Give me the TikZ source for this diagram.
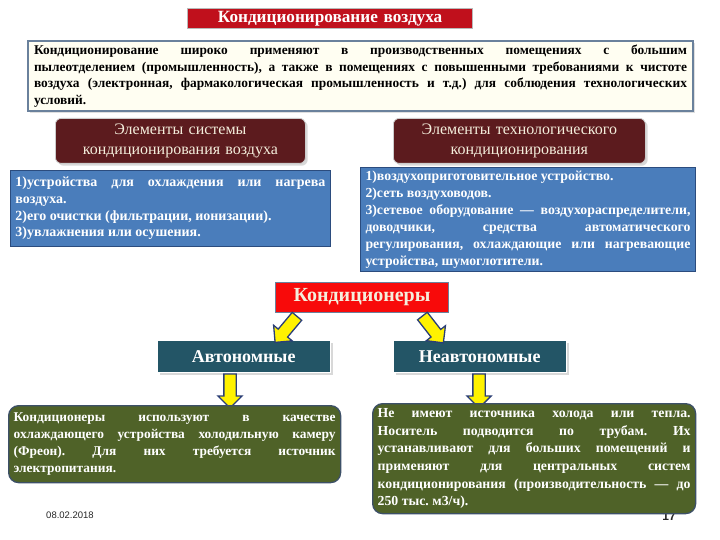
\documentclass[tikz,border=0pt]{standalone}
\usepackage{fontspec}
\setmainfont{Liberation Serif}
\newfontfamily\datefont{Liberation Sans}
\usetikzlibrary{positioning,calc,shapes.arrows,shadows}
\definecolor{kvTitle}{HTML}{C0101C}
\definecolor{kvFrame}{HTML}{6A819C}
\definecolor{kvIntroBg}{HTML}{FFFEF2}
\definecolor{kvHead}{HTML}{5C1B1E}
\definecolor{kvHeadTxt}{HTML}{F4EEDC}
\definecolor{kvBlue}{HTML}{4A7DBB}
\definecolor{kvBlueLine}{HTML}{2B4C7E}
\definecolor{kvRed}{HTML}{F80A0A}
\definecolor{kvTeal}{HTML}{235566}
\definecolor{kvGreen}{HTML}{4F6228}
\definecolor{kvGreenLine}{HTML}{3D5068}
\definecolor{kvArrow}{HTML}{2A3E78}
\frenchspacing
\tikzset{
  kvbox/.style n args={3}{
    anchor=north west, minimum width=#1, minimum height=#2,
    text width=#1-2*#3, inner xsep=#3, inner ysep=1pt},
  title/.style={kvbox={#1}{20pt}{6pt}, fill=kvTitle, draw=gray!55, line width=1.2pt,
    inner ysep=0pt, text=white, align=center,
    font=\fontsize{17.2}{17.5}\selectfont\bfseries},
  intro/.style={kvbox={665pt}{70pt}{6pt}, fill=kvIntroBg, draw=kvFrame, line width=2pt,
    drop shadow={opacity=0.25}, align=justify,
    font=\fontsize{13.4}{16.6}\selectfont\bfseries},
  head/.style={kvbox={#1}{45pt}{6pt}, fill=kvHead, draw=gray!40, line width=0.8pt,
    rounded corners=6pt, drop shadow={opacity=0.3}, text=kvHeadTxt, align=center,
    font=\fontsize{16}{19.5}\selectfont},
  bluebox/.style n args={4}{kvbox={#1}{#2}{5pt}, fill=kvBlue, draw=kvBlueLine,
    line width=1pt, text=white, align=justify,
    font=\fontsize{#3}{#4}\selectfont\bfseries},
  kind/.style={kvbox={173pt}{32pt}{6pt}, fill=kvTeal, draw=white, line width=0.5pt,
    drop shadow={opacity=0.3}, text=white, align=center,
    font=\fontsize{18}{19}\selectfont\bfseries},
  greenbox/.style n args={4}{kvbox={#1}{#2}{5pt}, fill=kvGreen, draw=kvGreenLine,
    line width=1.3pt, rounded corners=10pt, text=white, align=justify,
    font=\fontsize{#3}{#4}\selectfont\bfseries},
  blockarrow/.style={single arrow, fill=yellow, draw=kvArrow, line width=1.3pt,
    minimum height=34pt, text height=0pt, text depth=0pt, inner xsep=0pt,
    inner ysep=5.5pt, single arrow head extend=6pt, rotate=#1},
}

\begin{document}
\begin{tikzpicture}[x=1pt,y=-1pt]
\useasboundingbox[fill=white] (0,0) rectangle (720,540);

% ---- title and introduction
\node[title=285pt] (TITLE) at (187,8) {Кондиционирование воздуха};
\node[intro] (INTRO) at (27,40)
  {Кондиционирование широко применяют в производственных помещениях с большим\linebreak
   пылеотделением (промышленность), а также в помещениях с повышенными требованиями к чистоте\linebreak
   воздуха (электронная, фармакологическая промышленность и т.д.) для соблюдения технологических\linebreak
   условий.};

% ---- the two groups of elements
\node[head=250pt] (HSYS) at (55,118) {Элементы системы\\ кондиционирования воздуха};
\node[head=252pt] (HTECH) at (393,118) {Элементы технологического\\ кондиционирования};

\node[bluebox={320pt}{76pt}{14}{16.6}] (BSYS) at (10,170)
  {1)устройства для охлаждения или нагрева\linebreak воздуха.\\
   2)его очистки (фильтрации, ионизации).\\
   3)увлажнения или осушения.};
\node[bluebox={335pt}{104pt}{13.8}{17}] (BTECH) at (360,167)
  {1)воздухоприготовительное устройство.\\
   2)сеть воздуховодов.\\
   3)сетевое оборудование — воздухораспределители,\linebreak доводчики, средства автоматического\linebreak
   регулирования, охлаждающие или нагревающие\linebreak устройства, шумоглотители.};

% ---- air conditioners
\node[kvbox={173pt}{30pt}{6pt}, fill=kvRed, draw=kvFrame, line width=1pt, text=kvHeadTxt,
      align=center, font=\fontsize{20}{21}\selectfont\bfseries] (COND) at (275,282) {Кондиционеры};
\node[kind] (AVT) at (157,340) {Автономные};
\node[kind] (NAVT) at (393,340) {Неавтономные};

\node[blockarrow=230] (A1) at (288,327) {};
\node[blockarrow=-52] (A2) at (431,327) {};
\node[blockarrow=-90] (A3) at (230,388) {};
\node[blockarrow=-90] (A4) at (479,388) {};

% ---- footer (page number partly under the box)
\node[font=\datefont\fontsize{9.5}{11}\selectfont, text=black!85] (DATE) at (70,515) {08.02.2018};
\node[font=\datefont\fontsize{12}{14}\selectfont\bfseries, text=black!85] (PAGE) at (669,516) {17};

\node[greenbox={332pt}{77pt}{13.4}{16.8}] (GAVT) at (8,405)
  {Кондиционеры используют в качестве\linebreak охлаждающего устройства холодильную камеру\linebreak
   (Фреон). Для них требуется источник\linebreak электропитания.};
\node[greenbox={323pt}{110pt}{13.8}{17.6}] (GNAVT) at (372,403)
  {Не имеют источника холода или тепла.\linebreak Носитель подводится по трубам. Их\linebreak
   устанавливают для больших помещений и\linebreak применяют для центральных систем\linebreak
   кондиционирования (производительность — до\linebreak 250 тыс. м3/ч).};

\end{tikzpicture}
\end{document}
